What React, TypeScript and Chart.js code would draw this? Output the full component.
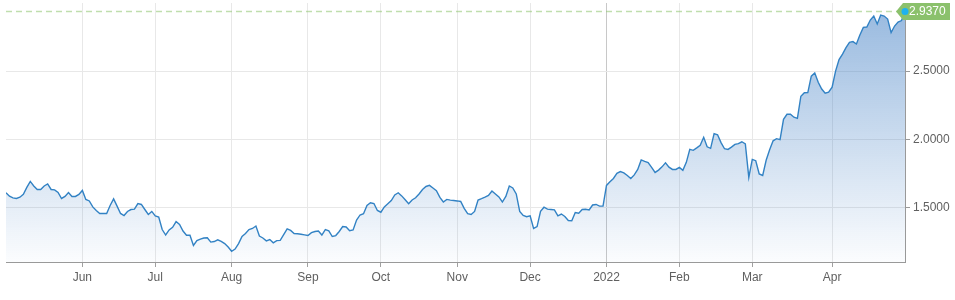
import React, { useEffect, useRef } from "react";
import { Chart, registerables } from "chart.js";

Chart.register(...registerables);

// Month labels (first month has no tick on the axis)
const monthLabels = ["May", "Jun", "Jul", "Aug", "Sep", "Oct", "Nov", "Dec", "2022", "Feb", "Mar", "Apr"];

// Daily closes, grouped by month
const may21 = [1.608, 1.583, 1.570, 1.566, 1.575, 1.596, 1.647, 1.691, 1.658, 1.632, 1.632, 1.658, 1.673, 1.632, 1.629, 1.610, 1.566, 1.581, 1.610, 1.581, 1.581, 1.596];
const jun21 = [1.625, 1.559, 1.548, 1.504, 1.478, 1.456, 1.456, 1.456, 1.515, 1.563, 1.510, 1.456, 1.441, 1.471, 1.485, 1.488, 1.529, 1.522, 1.485, 1.449, 1.471];
const jul21 = [1.438, 1.429, 1.338, 1.298, 1.335, 1.355, 1.397, 1.375, 1.327, 1.296, 1.296, 1.221, 1.257, 1.268, 1.276, 1.278, 1.246, 1.250, 1.263, 1.251, 1.235, 1.210];
const aug21 = [1.179, 1.195, 1.235, 1.288, 1.309, 1.338, 1.346, 1.364, 1.290, 1.276, 1.255, 1.265, 1.241, 1.257, 1.259, 1.301, 1.343, 1.332, 1.309, 1.307, 1.304, 1.299];
const sep21 = [1.294, 1.315, 1.324, 1.327, 1.298, 1.338, 1.329, 1.287, 1.294, 1.324, 1.360, 1.357, 1.329, 1.335, 1.408, 1.445, 1.454, 1.515, 1.535, 1.529, 1.478];
const oct21 = [1.465, 1.504, 1.527, 1.551, 1.592, 1.608, 1.585, 1.557, 1.527, 1.555, 1.571, 1.599, 1.632, 1.654, 1.662, 1.643, 1.623, 1.574, 1.540, 1.559, 1.554, 1.551];
const nov21 = [1.548, 1.544, 1.493, 1.454, 1.449, 1.471, 1.555, 1.565, 1.576, 1.588, 1.621, 1.599, 1.577, 1.540, 1.581, 1.658, 1.643, 1.599, 1.471, 1.441, 1.432];
const dec21 = [1.438, 1.346, 1.360, 1.471, 1.502, 1.488, 1.485, 1.482, 1.438, 1.452, 1.434, 1.404, 1.403, 1.463, 1.458, 1.485, 1.487, 1.482, 1.518, 1.522, 1.510, 1.510];
const jan22 = [1.662, 1.688, 1.713, 1.750, 1.763, 1.754, 1.735, 1.713, 1.739, 1.779, 1.849, 1.838, 1.829, 1.794, 1.757, 1.774, 1.798, 1.827, 1.796, 1.779, 1.779];
const feb22 = [1.794, 1.772, 1.831, 1.926, 1.919, 1.937, 1.956, 2.015, 1.945, 1.934, 2.042, 2.033, 1.976, 1.931, 1.926, 1.943, 1.963, 1.968, 1.982, 1.967, 1.721];
const mar22 = [1.853, 1.843, 1.746, 1.735, 1.846, 1.923, 1.989, 2.005, 1.998, 2.147, 2.184, 2.184, 2.162, 2.154, 2.316, 2.342, 2.343, 2.463, 2.487, 2.419, 2.369, 2.338, 2.346];
const apr22 = [2.382, 2.500, 2.585, 2.625, 2.672, 2.711, 2.717, 2.699, 2.765, 2.821, 2.824, 2.875, 2.904, 2.846, 2.912, 2.904, 2.882, 2.783, 2.831, 2.860, 2.871, 2.937];

const monthSeries = [may21, jun21, jul21, aug21, sep21, oct21, nov21, dec21, jan22, feb22, mar22, apr22];

const yTickValues = [1.5, 2.0, 2.5];
const Y_MIN = 1.1;
const Y_MAX = 3.0;

const FONT = "'Liberation Sans', Arial, sans-serif";

export default function App() {
  const ref = useRef<HTMLCanvasElement | null>(null);

  useEffect(() => {
    document.body.style.margin = "0";
    const canvas = ref.current;
    if (!canvas) return;

    const values: number[] = ([] as number[]).concat(...monthSeries);
    const starts: number[] = [];
    let acc = 0;
    monthSeries.forEach((m) => {
      starts.push(acc);
      acc += m.length;
    });
    const tickIdx = starts.slice(1);
    const tickText = new Map<number, string>(tickIdx.map((s, k) => [s, monthLabels[k + 1]]));
    const yearIdx = starts[monthLabels.indexOf("2022")];
    const last = values.length - 1;

    const lastPricePlugin = {
      id: "lastPrice",
      afterDatasetsDraw(chart: any) {
        const { ctx, chartArea } = chart;
        const pt = chart.getDatasetMeta(0).data[last];
        if (!pt) return;
        const px = pt.x;
        const py = pt.y;
        ctx.save();
        // dashed price line
        ctx.strokeStyle = "rgba(150,200,120,0.6)";
        ctx.lineWidth = 1.5;
        ctx.setLineDash([6, 4]);
        ctx.beginPath();
        ctx.moveTo(chartArea.left, py);
        ctx.lineTo(px - 8, py);
        ctx.stroke();
        ctx.setLineDash([]);
        // label box with arrow
        const h = 17;
        const bx = px - 2;
        const bw = 47;
        ctx.fillStyle = "#8bc16c";
        ctx.beginPath();
        ctx.moveTo(px - 9, py);
        ctx.lineTo(bx, py - h / 2);
        ctx.lineTo(bx + bw, py - h / 2);
        ctx.lineTo(bx + bw, py + h / 2);
        ctx.lineTo(bx, py + h / 2);
        ctx.closePath();
        ctx.fill();
        ctx.fillStyle = "#ffffff";
        ctx.font = `12px ${FONT}`;
        ctx.textAlign = "left";
        ctx.textBaseline = "middle";
        ctx.fillText(values[last].toFixed(4), px + 4, py + 0.5);
        // last point marker
        ctx.fillStyle = "#1eb2ef";
        ctx.beginPath();
        ctx.arc(px, py, 3.5, 0, Math.PI * 2);
        ctx.fill();
        ctx.restore();
      },
    };

    const chart = new Chart(canvas, {
      type: "line",
      data: {
        datasets: [
          {
            data: values.map((v, i) => ({ x: i, y: v })),
            borderColor: "#3282c4",
            borderWidth: 1.4,
            pointRadius: 0,
            tension: 0,
            fill: "start",
            backgroundColor: (c: any) => {
              const ca = c.chart.chartArea;
              if (!ca) return "rgba(64,126,196,0.2)";
              const g = c.chart.ctx.createLinearGradient(0, ca.top, 0, ca.bottom);
              g.addColorStop(0, "rgba(64,126,196,0.55)");
              g.addColorStop(1, "rgba(64,126,196,0.02)");
              return g;
            },
          },
        ],
      },
      options: {
        responsive: false,
        animation: false,
        devicePixelRatio: 1,
        layout: { padding: { left: 6, top: 3, right: 0, bottom: 0 } },
        plugins: { legend: { display: false }, tooltip: { enabled: false } },
        scales: {
          x: {
            type: "linear",
            min: 0,
            max: last,
            afterBuildTicks: (s: any) => {
              s.ticks = tickIdx.map((v) => ({ value: v }));
            },
            afterFit: (s: any) => {
              s.height = 38;
              s.paddingLeft = 0;
              s.paddingRight = 0;
            },
            grid: {
              color: (c: any) => (c.tick && c.tick.value === yearIdx ? "#c8c8c8" : "#e8e8e8"),
              tickColor: "#a0a0a0",
              tickLength: 5,
            },
            border: { color: "#999999" },
            ticks: {
              autoSkip: false,
              maxRotation: 0,
              padding: 3,
              color: "#606060",
              font: { family: FONT, size: 12 },
              callback: (v: any) => tickText.get(Number(v)) ?? "",
            },
          },
          y: {
            position: "right",
            min: Y_MIN,
            max: Y_MAX,
            afterBuildTicks: (s: any) => {
              s.ticks = yTickValues.map((v) => ({ value: v }));
            },
            afterFit: (s: any) => {
              s.width = 50;
              s.paddingTop = 0;
              s.paddingBottom = 0;
            },
            grid: { color: "#e8e8e8", tickColor: "#999999", tickLength: 5 },
            border: { color: "#999999" },
            ticks: {
              padding: 3,
              color: "#606060",
              font: { family: FONT, size: 12 },
              callback: (v: any) => Number(v).toFixed(4),
            },
          },
        },
      },
      plugins: [lastPricePlugin],
    });

    return () => chart.destroy();
  }, []);

  return (
    <div style={{ width: 955, height: 300 }}>
      <canvas ref={ref} width={955} height={300} style={{ display: "block" }} />
    </div>
  );
}
